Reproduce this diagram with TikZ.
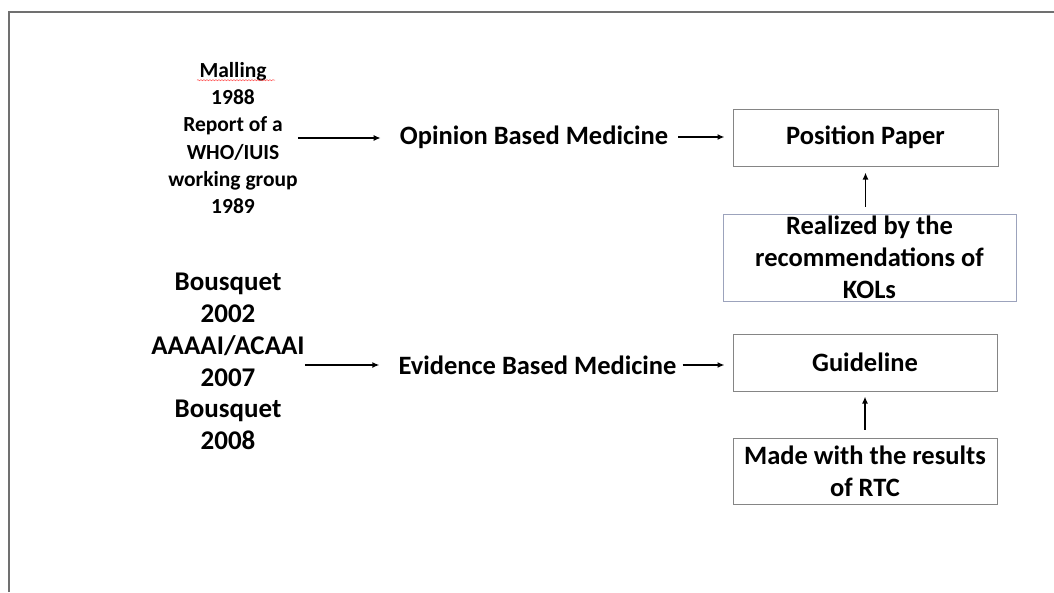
\documentclass[tikz,border=0pt]{standalone}
\usepackage{fontspec}
\setmainfont{Carlito}
\usetikzlibrary{arrows.meta,decorations.pathmorphing}
\definecolor{framegray}{HTML}{707070}
\definecolor{boxgray}{HTML}{858585}
\definecolor{boxblue}{HTML}{9CA3BC}
\begin{document}
\begin{tikzpicture}[x=1pt,y=-1pt,
  txt/.style={inner sep=0pt,align=center,font=\fontsize{26.5}{32}\selectfont\bfseries},
  txtsmall/.style={inner sep=0pt,align=center,font=\fontsize{21.5}{27.2}\selectfont\bfseries},
  txtbig/.style={inner sep=0pt,align=center,font=\fontsize{27}{31.8}\selectfont\bfseries},
  boxnode/.style={txt,draw=boxgray,line width=1pt},
  arr/.style={-{Latex[length=7pt,width=6pt]},line width=1.6pt}]
\useasboundingbox (0,0) rectangle (1054,592);
\draw[framegray,line width=1.5pt] (9,592) -- (9,12) -- (1054,12);

\node[txtsmall] (mal) at (233,138) {Malling\\1988\\Report of a\\WHO/IUIS\\working group\\1989};
\draw[red!70,line width=0.5pt,decorate,
  decoration={snake,amplitude=0.6pt,segment length=3pt}]
  ([xshift=-36pt,yshift=-18pt]mal.north) -- ([xshift=42pt,yshift=-18pt]mal.north);
\node[txt] (obm) at (534,137) {Opinion Based Medicine};
\node[boxnode,minimum width=265pt,minimum height=57pt] (pp) at (865.5,137.5) {Position Paper};
\node[boxnode,draw=boxblue,minimum width=293pt,minimum height=87pt] (kol) at (869.5,257.5) {Realized by the\\recommendations of\\KOLs};

\node[txtbig] (bou) at (228,361.5) {Bousquet\\2002\\AAAAI/ACAAI\\2007\\Bousquet\\2008};
\node[txt] (ebm) at (537.5,365) {Evidence Based Medicine};
\node[boxnode,minimum width=264pt,minimum height=57pt] (gl) at (865,362.5) {Guideline};
\node[boxnode,minimum width=264pt,minimum height=66pt] (rtc) at (865,471) {Made with the results\\of RTC};

\draw[arr,shorten >=19pt] (mal.east) -- (mal.east -| obm.west);
\draw[arr,shorten <=10pt,shorten >=8pt] (obm.east) -- (obm.east -| pp.west);
\draw[arr,shorten <=7pt,shorten >=6pt] (pp.south |- kol.north) -- (pp.south);
\draw[arr,shorten >=19pt] (bou.east |- ebm.west) -- (ebm.west);
\draw[arr,shorten <=6pt,shorten >=8pt] (ebm.east) -- (ebm.east -| gl.west);
\draw[arr,shorten <=8pt,shorten >=5pt] (rtc.north) -- (gl.south);
\end{tikzpicture}
\end{document}
